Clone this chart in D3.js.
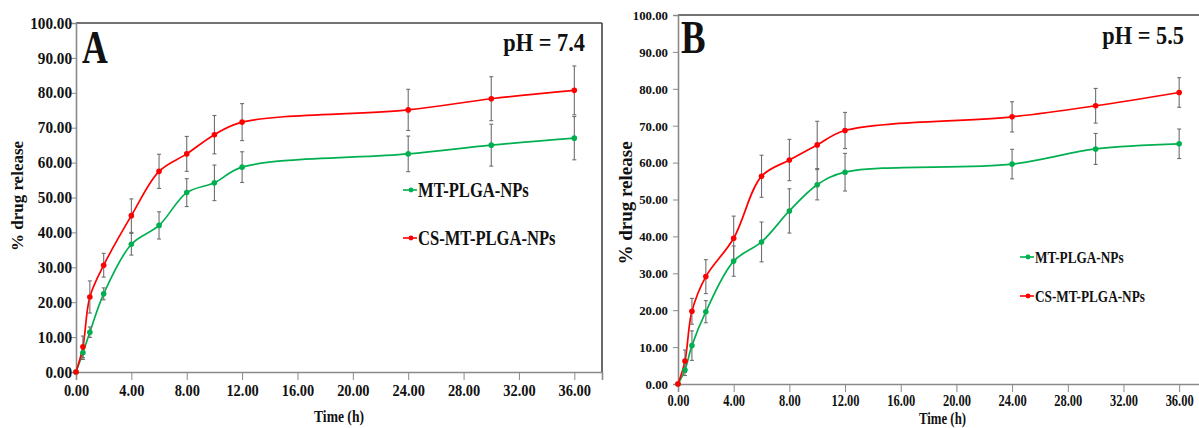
<html>
<head>
<meta charset="utf-8">
<script src="https://cdnjs.cloudflare.com/ajax/libs/d3/7.8.5/d3.min.js"></script>
<style>
  * { margin: 0; padding: 0; }
  body { background: #fff; width: 1199px; height: 428px; overflow: hidden; }
  svg text { font-family: "Liberation Serif", "Times New Roman", serif; font-weight: bold; fill: #111; }
</style>
</head>
<body>
<svg id="viz" width="1199" height="428"></svg>
<script>
// time points (h)
var timeH = [0, 0.5, 1, 2, 4, 6, 8, 10, 12, 24, 30, 36];
var xTicks = [0, 4, 8, 12, 16, 20, 24, 28, 32, 36];
var yTicks = [0, 10, 20, 30, 40, 50, 60, 70, 80, 90, 100];
var seriesNames = ["MT-PLGA-NPs", "CS-MT-PLGA-NPs"];

// panel A, pH 7.4
var mtA    = [0, 5.5, 11.4, 22.4, 36.6, 42.0, 51.4, 54.2, 58.7, 62.5, 65.0, 67.0];
var mtAErr = [0, 1.9, 1.5, 1.7, 3.1, 3.9, 4.0, 5.1, 4.4, 5.1, 6.0, 6.2];
var csA    = [0, 7.2, 21.5, 30.6, 44.8, 57.5, 62.5, 68.0, 71.6, 75.1, 78.3, 80.7];
var csAErr = [0, 3.1, 4.6, 3.4, 4.8, 4.9, 5.0, 5.5, 5.3, 5.9, 6.3, 7.0];

// panel B, pH 5.5
var mtB    = [0, 3.8, 10.4, 19.6, 33.3, 38.5, 46.9, 54.0, 57.4, 59.6, 63.7, 65.1];
var mtBErr = [0, 1.5, 4.0, 3.0, 4.1, 5.4, 6.0, 4.1, 5.1, 4.0, 4.2, 4.0];
var csB    = [0, 6.2, 19.7, 29.1, 39.5, 56.3, 60.7, 64.8, 68.7, 72.4, 75.4, 79.0];
var csBErr = [0, 3.0, 3.5, 4.6, 6.0, 5.7, 5.6, 6.4, 4.9, 4.1, 4.7, 4.0];

var colors = ["#00b050", "#ff0000"];
var fmt = d3.format(".2f");
var svg = d3.select("#viz");

// text placed with translate + horizontal squeeze (the source fonts are condensed)
function label(g, txt, x, y, size, k, anchor) {
    return g.append("text")
        .attr("transform", "translate(" + x + "," + y + ") scale(" + k + ",1)")
        .attr("text-anchor", anchor || "start")
        .style("font-size", size + "px")
        .text(txt);
}

function drawPanel(p) {
    var g = svg.append("g");
    var x = d3.scaleLinear().domain([0, 38]).range([p.left, p.right]);
    var y = d3.scaleLinear().domain([0, 100]).range([p.bottom, p.top]);

    // frame: top (and right for A)
    g.append("line").attr("x1", p.left).attr("x2", p.right)
        .attr("y1", p.top).attr("y2", p.top)
        .attr("stroke", "#444").attr("stroke-width", 1.6);
    if (p.rightBorder) {
        g.append("line").attr("x1", p.right).attr("x2", p.right)
            .attr("y1", p.top).attr("y2", p.bottom)
            .attr("stroke", "#444").attr("stroke-width", 1.6);
    }

    // y axis
    var ya = g.append("g").attr("transform", "translate(" + p.left + ",0)")
        .call(d3.axisLeft(y).tickValues(yTicks).tickFormat(fmt).tickSizeOuter(0).tickSize(5));
    ya.select(".domain").attr("stroke", "#8a8a8a").attr("stroke-width", 1.6);
    ya.selectAll(".tick line").attr("stroke", "#8a8a8a");
    ya.selectAll(".tick text")
        .attr("x", -p.yPad / p.yK)
        .attr("transform", "scale(" + p.yK + ",1)")
        .style("font-size", p.yFont + "px")
        .style("font-family", "'Liberation Serif', serif").style("font-weight", "bold").attr("fill", "#111");

    // x axis
    var xa = g.append("g").attr("transform", "translate(0," + p.bottom + ")")
        .call(d3.axisBottom(x).tickValues(xTicks).tickFormat(fmt).tickSizeOuter(0).tickSize(8));
    xa.select(".domain").attr("stroke", "#8a8a8a").attr("stroke-width", 1.6);
    xa.selectAll(".tick line").attr("stroke", "#8a8a8a");
    xa.selectAll(".tick text")
        .attr("y", p.xPad)
        .attr("transform", "scale(" + p.xK + ",1)")
        .style("font-size", p.xFont + "px")
        .style("font-family", "'Liberation Serif', serif").style("font-weight", "bold").attr("fill", "#111");

    // axis titles
    label(g, "Time (h)", (x(0) + x(38)) / 2, p.timeY, p.timeFont, p.timeK, "middle");
    g.append("text")
        .attr("transform", "translate(" + p.yTitleX + "," + p.yTitleY + ") rotate(-90)")
        .attr("text-anchor", "middle")
        .style("font-size", p.yTitleFont + "px")
        .text("% drug release");

    // panel letter and pH
    label(g, p.letter, p.letterX, p.letterY, p.letterFont, p.letterK);
    label(g, p.ph, p.phX, p.phY, 26, p.phK, "end");

    var line = d3.line()
        .x(function (d) { return x(d[0]); })
        .y(function (d) { return y(d[1]); })
        .curve(d3.curveCatmullRom.alpha(0.5));

    p.series.forEach(function (s, i) {
        var pts = timeH.map(function (t, j) { return [t, s.vals[j], s.err[j]]; });
        g.append("path").attr("d", line(pts))
            .attr("fill", "none").attr("stroke", colors[i]).attr("stroke-width", 1.7);
    });

    // error bars then markers
    p.series.forEach(function (s, i) {
        var pts = timeH.map(function (t, j) { return [t, s.vals[j], s.err[j]]; })
            .filter(function (d) { return d[2] > 0; });
        var eb = g.append("g").attr("stroke", "#6e6e6e").attr("stroke-width", 1.1);
        eb.selectAll(".v").data(pts).enter().append("line")
            .attr("x1", function (d) { return x(d[0]); }).attr("x2", function (d) { return x(d[0]); })
            .attr("y1", function (d) { return y(d[1] - d[2]); }).attr("y2", function (d) { return y(d[1] + d[2]); });
        [-1, 1].forEach(function (sgn) {
            eb.selectAll(".c" + sgn).data(pts).enter().append("line")
                .attr("x1", function (d) { return x(d[0]) - 2; }).attr("x2", function (d) { return x(d[0]) + 2; })
                .attr("y1", function (d) { return y(d[1] + sgn * d[2]); })
                .attr("y2", function (d) { return y(d[1] + sgn * d[2]); });
        });
    });
    p.series.forEach(function (s, i) {
        g.selectAll(".m" + i).data(timeH).enter().append("circle")
            .attr("cx", function (t) { return x(t); })
            .attr("cy", function (t, j) { return y(s.vals[j]); })
            .attr("r", 2.8).attr("fill", colors[i]);
    });

    // legend
    seriesNames.forEach(function (name, i) {
        var ly = p.legY[i];
        g.append("line").attr("x1", p.legX - 15).attr("x2", p.legX - 1)
            .attr("y1", ly).attr("y2", ly).attr("stroke", colors[i]).attr("stroke-width", 1.6);
        g.append("circle").attr("cx", p.legX - 7).attr("cy", ly).attr("r", 2.4).attr("fill", colors[i]);
        label(g, name, p.legX, ly + p.legFont * 0.33, p.legFont, p.legK);
    });
}

drawPanel({
    left: 76, right: 602, top: 23, bottom: 372, rightBorder: true,
    yFont: 16, yK: 0.95, yPad: 4, xFont: 16, xK: 0.9, xPad: 13,
    timeY: 422, timeFont: 17, timeK: 0.8,
    yTitleX: 23, yTitleY: 196, yTitleFont: 17,
    letter: "A", letterX: 82, letterY: 63, letterFont: 47, letterK: 0.76,
    ph: "pH = 7.4", phX: 585, phY: 51, phK: 0.86,
    legX: 418, legY: [190, 238], legFont: 21, legK: 0.79,
    series: [{ vals: mtA, err: mtAErr }, { vals: csA, err: csAErr }]
});

drawPanel({
    left: 678, right: 1207, top: 15, bottom: 384, rightBorder: false,
    yFont: 13.5, yK: 0.95, yPad: 10, xFont: 16, xK: 0.78, xPad: 11,
    timeY: 424, timeFont: 16, timeK: 0.8,
    yTitleX: 632, yTitleY: 203, yTitleFont: 19,
    letter: "B", letterX: 681, letterY: 53, letterFont: 46, letterK: 0.8,
    ph: "pH = 5.5", phX: 1184, phY: 44, phK: 0.86,
    legX: 1035, legY: [257, 296], legFont: 17, legK: 0.78,
    series: [{ vals: mtB, err: mtBErr }, { vals: csB, err: csBErr }]
});
</script>
</body>
</html>
